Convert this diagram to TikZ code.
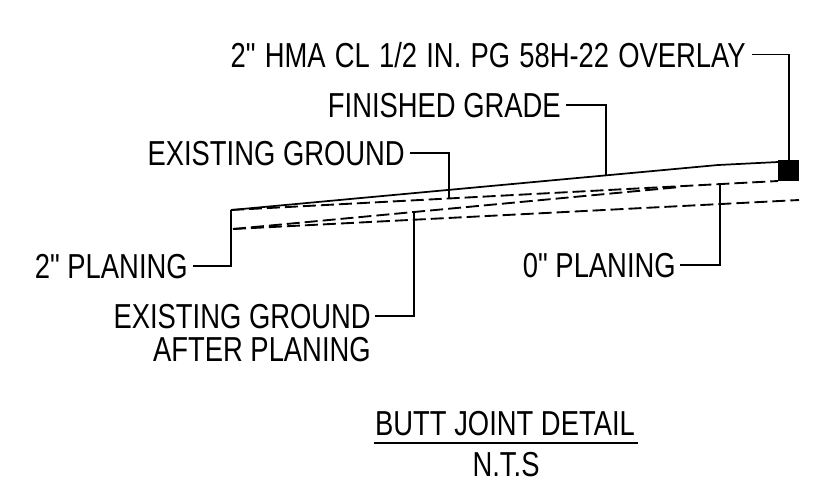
\documentclass[tikz,border=0pt]{standalone}
\usepackage{fontspec}
\defaultfontfeatures{}
\newfontfamily\labelfont{Liberation Sans}[FakeStretch=0.79]
\tikzset{
  label/.style={inner sep=0pt,anchor=base east,font=\labelfont\fontsize{26}{30}\selectfont,text=black},
  leader/.style={line width=1.2pt},
  grade/.style={line width=1.3pt},
  dashline/.style={line width=1.4pt,dash pattern=on 9.75pt off 3.75pt}
}
\begin{document}
\begin{tikzpicture}[x=0.75pt,y=-0.75pt]
  \useasboundingbox (0,0) rectangle (816,487);
  % labels
  \node[label] (overlay) at (746,67) {\spaceskip 6.9pt\relax 2" HMA CL 1/2 IN. PG 58H-22 OVERLAY};
  \node[label] (finished) at (561,117) {FINISHED GRADE};
  \node[label] (existing) at (405,165) {EXISTING GROUND};
  \node[label] (twoin) at (188,278) {2" PLANING};
  \node[label] (zeroin) at (676,277) {0" PLANING};
  \node[label] (after) at (371,328) {EXISTING GROUND};
  \node[label] (after2) at (371,361) {AFTER PLANING};
  \node[label,anchor=base] (title) at (505,435) {BUTT JOINT DETAIL};
  \node[label,anchor=base] (nts) at (506,476) {N.T.S};
  % surface points
  \coordinate (a) at (231,210);
  \coordinate (b) at (718,165);
  \coordinate (c) at (778,162);
  \coordinate (d) at (778,181);
  \coordinate (e) at (233,229);
  \coordinate (f) at (799,200);
  \coordinate (g) at (680,187);
  \coordinate (overlaytip) at (789,160);
  \coordinate (finishedtip) at (606,175);
  \coordinate (existingtip) at (449,198);
  \coordinate (zerotip) at (720,184);
  \coordinate (aftertip) at (414,212);
  \coordinate (titlel) at (373.5,442.7);
  \coordinate (titler) at (637.5,442.7);
  \draw[grade] (a) -- (b) -- (c);
  \draw[dashline] (a) -- (d);
  \draw[dashline] (e) -- (f);
  \draw[dashline] (e) -- (g);
  \fill (778,160) rectangle (799,181);
  % leaders
  \draw[leader] (overlay.east) ++(6,0) -| (overlaytip);
  \draw[leader] (finished.east) ++(5,0) -| (finishedtip);
  \draw[leader] (existing.east) ++(5,0) -| (existingtip);
  \draw[leader] (twoin.east) ++(5,0) -| (a);
  \draw[leader] (zeroin.east) ++(4,0) -| (zerotip);
  \draw[leader] (after.east) ++(4,0) -| (aftertip);
  \draw[leader,line width=1.6pt] (titlel) -- (titler);
\end{tikzpicture}
\end{document}
